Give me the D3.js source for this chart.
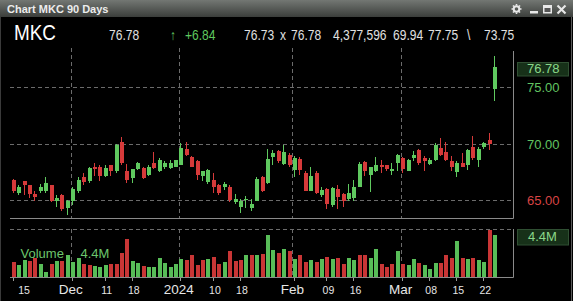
<!DOCTYPE html>
<html>
<head>
<meta charset="utf-8">
<script src="https://cdn.jsdelivr.net/npm/d3@7"></script>
<style>
  body { margin: 0; background: #000; overflow: hidden; }
  svg { display: block; }
  text { font-family: "Liberation Sans", Arial, sans-serif; }
</style>
</head>
<body>
<script>
const ticker = "MKC";
const bid = 76.73;

const dates = [
  "2023-11-15","2023-11-16","2023-11-17","2023-11-20","2023-11-21","2023-11-22","2023-11-24","2023-11-27","2023-11-28","2023-11-29","2023-11-30",
  "2023-12-01","2023-12-04","2023-12-05","2023-12-06","2023-12-07","2023-12-08","2023-12-11","2023-12-12","2023-12-13","2023-12-14",
  "2023-12-15","2023-12-18","2023-12-19","2023-12-20","2023-12-21","2023-12-22","2023-12-26","2023-12-27","2023-12-28","2023-12-29",
  "2024-01-02","2024-01-03","2024-01-04","2024-01-05","2024-01-08","2024-01-09","2024-01-10","2024-01-11","2024-01-12","2024-01-16",
  "2024-01-17","2024-01-18","2024-01-19","2024-01-22","2024-01-23","2024-01-24","2024-01-25","2024-01-26","2024-01-29","2024-01-30","2024-01-31",
  "2024-02-01","2024-02-02","2024-02-05","2024-02-06","2024-02-07","2024-02-08","2024-02-09","2024-02-12","2024-02-13","2024-02-14",
  "2024-02-15","2024-02-16","2024-02-20","2024-02-21","2024-02-22","2024-02-23","2024-02-26","2024-02-27","2024-02-28","2024-02-29",
  "2024-03-01","2024-03-04","2024-03-05","2024-03-06","2024-03-07","2024-03-08","2024-03-11","2024-03-12","2024-03-13","2024-03-14",
  "2024-03-15","2024-03-18","2024-03-19","2024-03-20","2024-03-21","2024-03-22","2024-03-25","2024-03-26"
];

const open = [
  66.76,65.63,66.67,66.31,65.58,65.78,65.78,66.31,64.96,65.43,64.31,
  64.90,65.78,67.02,66.67,67.91,67.99,67.11,68.08,67.55,70.12,67.61,66.96,67.79,67.85,67.26,68.29,67.61,67.91,67.85,67.99,
  68.14,69.56,68.79,68.44,67.11,66.61,66.81,66.31,66.14,66.14,64.84,64.37,65.01,64.31,64.96,67.02,66.52,68.79,69.32,68.20,68.97,
  67.70,68.67,67.40,65.84,67.40,65.49,66.02,64.54,66.02,65.55,65.13,65.19,66.22,68.38,67.20,67.61,68.08,68.08,67.61,68.29,
  68.73,67.61,68.73,69.47,68.73,68.20,68.58,69.62,69.26,68.44,67.49,68.29,68.08,69.68,68.58,69.68,70.35,74.87
];
const high = [
  66.87,66.37,66.70,66.37,65.78,66.43,67.02,66.37,65.49,65.55,65.04,
  66.14,67.02,67.40,67.99,68.29,68.08,68.08,68.08,69.97,70.56,68.20,67.79,68.38,67.99,68.08,69.26,68.73,68.44,68.58,68.58,
  70.06,70.15,68.94,68.58,67.61,67.79,67.40,66.43,66.61,66.37,65.55,65.13,65.34,65.13,67.02,67.11,69.56,69.47,69.47,69.91,69.17,
  68.88,68.79,67.55,67.99,67.55,66.22,66.08,66.14,66.37,65.63,66.43,66.81,68.38,68.44,67.91,68.79,68.58,68.14,68.29,69.09,
  68.79,68.67,69.32,69.56,68.88,68.73,70.03,70.50,70.15,68.88,68.44,69.17,69.56,70.65,69.76,70.15,70.94,77.75
];
const low = [
  65.63,65.49,65.49,65.19,64.96,65.63,65.63,64.84,64.45,64.01,63.66,
  64.54,65.69,66.31,66.52,67.11,66.67,67.05,67.11,67.46,68.14,66.52,66.52,67.70,66.90,67.11,67.79,67.49,67.79,67.79,67.91,
  68.08,68.88,67.91,66.81,66.67,66.43,65.63,65.49,65.93,64.84,64.66,63.86,64.31,64.01,64.90,65.72,66.43,68.08,68.29,68.08,67.91,
  67.02,67.20,65.78,65.78,65.55,65.25,64.25,64.45,64.25,64.45,64.90,64.90,66.14,67.11,65.72,67.49,67.40,67.61,67.26,67.61,
  67.40,67.55,68.44,68.14,67.61,68.08,68.50,68.88,68.50,67.61,67.02,67.91,67.70,68.58,67.91,69.56,69.47,73.75
];
const close = [
  65.78,66.14,66.31,65.58,65.28,66.22,66.52,64.90,65.19,64.25,64.90,
  66.02,66.81,66.61,67.85,67.79,67.11,67.85,67.55,69.91,68.29,66.81,67.79,68.29,66.96,67.99,67.85,68.58,68.29,68.29,68.58,
  69.62,68.97,67.99,67.20,67.55,67.70,66.22,65.63,66.43,65.04,65.13,64.96,65.13,64.66,66.90,65.78,68.67,69.17,68.50,69.26,68.14,
  68.73,67.70,65.84,67.11,65.63,65.93,64.66,66.08,65.25,64.90,65.63,66.22,68.20,67.55,67.91,68.14,67.91,67.79,67.79,69.03,
  67.79,68.58,69.03,68.29,68.44,68.58,69.91,68.97,68.58,67.99,68.29,67.99,69.47,68.73,69.56,70.06,69.94,76.78
];
// volume in millions
const volume = [
  1.55,1.21,1.76,1.62,1.93,1.34,0.52,1.31,1.62,1.62,2.31,
  1.55,2.03,1.31,1.27,1.10,1.00,1.21,1.31,1.35,2.48,3.96,1.62,1.41,1.14,1.03,1.03,2.00,1.48,1.03,1.38,
  1.83,1.79,2.24,1.21,1.79,1.89,2.13,1.31,1.55,2.75,1.62,1.79,2.24,2.31,2.24,2.41,4.41,2.86,2.51,2.93,2.75,
  1.83,2.24,1.55,1.72,1.55,1.89,2.07,1.89,1.96,1.31,2.03,1.72,2.31,2.24,2.00,2.93,1.31,1.03,1.38,2.75,
  1.31,1.21,1.83,1.48,1.21,0.86,1.48,1.45,2.34,1.96,3.79,2.03,1.83,2.03,1.72,1.55,4.92,4.377596
];
// 1 = up day (green volume bar), 0 = down day (red)
const volumeUp = [
  0,1,1,0,0,1,1,0,1,0,1,
  1,1,0,0,1,1,1,0,0,0,0,1,1,0,1,1,1,1,1,1,
  1,0,0,0,0,1,0,0,1,0,0,0,1,0,1,0,1,1,0,1,0,
  1,0,0,1,0,1,0,1,0,0,1,1,0,0,1,1,0,0,0,1,
  0,1,1,0,1,1,1,0,0,0,1,0,1,0,1,1,0,1
];

const priceTicks = [65, 70, 75];
const monthStarts = ["2023-12-01", "2024-01-02", "2024-02-01", "2024-03-01"];
const tickDates = ["2023-11-15","2023-12-01","2023-12-11","2023-12-18","2024-01-02","2024-01-10","2024-01-18",
                   "2024-02-01","2024-02-09","2024-02-16","2024-03-01","2024-03-08","2024-03-15","2024-03-22"];
const tickTexts = ["15","Dec","11","18","2024","10","18","Feb","09","16","Mar","08","15","22"];

const width = 573, height = 301;
const plotLeft = 10, plotRight = 513;
const priceTop = 48, priceBottom = 218;
const volTop = 229, volBottom = 277;

const green = "#5fc95f", red = "#d63a3a";
const volGreen = "#58bd58", volRed = "#c93636";
const gridColor = "#6b6b6b", frameColor = "#8a8a8a";

const n = dates.length;
const last = n - 1;

const svg = d3.select("body").append("svg")
    .attr("width", width)
    .attr("height", height);

const defs = svg.append("defs");
const tg = defs.append("linearGradient").attr("id", "titleGrad")
    .attr("x1", 0).attr("y1", 0).attr("x2", 0).attr("y2", 1);
tg.append("stop").attr("offset", "0%").attr("stop-color", "#737773");
tg.append("stop").attr("offset", "100%").attr("stop-color", "#3b3e3b");

svg.append("rect").attr("width", width).attr("height", height).attr("fill", "#000");

/* ------- TITLE BAR ------- */
svg.append("rect").attr("x", 0).attr("y", 0).attr("width", width).attr("height", 17)
    .attr("fill", "url(#titleGrad)");
svg.append("text")
    .attr("x", 7).attr("y", 13)
    .attr("font-size", 11).attr("font-weight", "bold")
    .attr("fill", "#ececec")
    .text("Chart " + ticker + " " + n + " Days");

// window icons
const icons = svg.append("g").attr("fill", "#e8e8e8").attr("stroke", "#e8e8e8");
icons.append("circle").attr("cx", 516.5).attr("cy", 9).attr("r", 2.8)
    .attr("fill", "none").attr("stroke-width", 2);
d3.range(8).forEach(function(k) {
    const a = k * Math.PI / 4;
    icons.append("line")
        .attr("x1", 516.5 + Math.cos(a) * 3.5).attr("y1", 9 + Math.sin(a) * 3.5)
        .attr("x2", 516.5 + Math.cos(a) * 5).attr("y2", 9 + Math.sin(a) * 5)
        .attr("stroke-width", 1.6);
});
icons.append("rect").attr("x", 530).attr("y", 11).attr("width", 8).attr("height", 2.5).attr("stroke", "none");
icons.append("rect").attr("x", 543).attr("y", 5).attr("width", 9).attr("height", 8.5).attr("stroke", "none");
icons.append("rect").attr("x", 544.5).attr("y", 8).attr("width", 6).attr("height", 4).attr("fill", "#555").attr("stroke", "none");
icons.append("line").attr("x1", 557.5).attr("y1", 5.5).attr("x2", 565.5).attr("y2", 13.5).attr("stroke-width", 2.2);
icons.append("line").attr("x1", 565.5).attr("y1", 5.5).attr("x2", 557.5).attr("y2", 13.5).attr("stroke-width", 2.2);

/* ------- QUOTE LINE (condensed face) ------- */
const fmt2 = d3.format(".2f");
const change = close[last] - close[last - 1];
const quoteItems = [
    { x: 14,  text: ticker, size: 22, fill: "#ffffff" },
    { x: 109, text: fmt2(close[last]) },
    { x: 170, text: "\u2191", fill: green },
    { x: 185, text: "+" + fmt2(change), fill: green },
    { x: 244, text: fmt2(bid) },
    { x: 280, text: "x" },
    { x: 291, text: fmt2(close[last]) },
    { x: 333, text: d3.format(",")(Math.round(volume[last] * 1e6)) },
    { x: 393, text: fmt2(close[last - 1]) },
    { x: 428, text: fmt2(high[last]) },
    { x: 467, text: "\\" },
    { x: 484, text: fmt2(low[last]) }
];
svg.append("g").selectAll("text").data(quoteItems).enter().append("text")
    .attr("transform", function(d) { return "translate(" + d.x + ",39.5) scale(0.86,1)"; })
    .attr("font-size", function(d) { return d.size || 14; })
    .attr("fill", function(d) { return d.fill || "#e2e2e2"; })
    .text(function(d) { return d.text; });

/* ------- SCALES ------- */
const x = d3.scaleBand().domain(dates).range([10.1, 496.8]).padding(0);
const cx = function(d) { return x(d) + x.bandwidth() / 2; };
const y = d3.scaleLinear().domain([65, 75]).range([200.3, 87.3]);
const yv = d3.scaleLinear().domain([0, 5.0]).range([volBottom, volTop]);

const data = dates.map(function(d, i) {
    return { date: d, o: open[i], h: high[i], l: low[i], c: close[i], v: volume[i], up: volumeUp[i] };
});

/* ------- GRID ------- */
const grid = svg.append("g").attr("stroke", gridColor).attr("stroke-dasharray", "4,3").attr("stroke-width", 1);
grid.selectAll(".hgrid").data(priceTicks).enter().append("line")
    .attr("x1", plotLeft).attr("x2", plotRight)
    .attr("y1", function(d) { return Math.round(y(d)) + 0.5; })
    .attr("y2", function(d) { return Math.round(y(d)) + 0.5; });
grid.append("line")
    .attr("x1", plotLeft).attr("x2", plotRight)
    .attr("y1", Math.round(yv(5.0)) + 0.5).attr("y2", Math.round(yv(5.0)) + 0.5);
grid.selectAll(".vgrid").data(monthStarts).enter().append("line")
    .attr("x1", function(d) { return Math.round(cx(d) - 1.6) + 0.5; })
    .attr("x2", function(d) { return Math.round(cx(d) - 1.6) + 0.5; })
    .attr("y1", priceTop).attr("y2", priceBottom);
grid.selectAll(".vgrid2").data(monthStarts).enter().append("line")
    .attr("x1", function(d) { return Math.round(cx(d) - 1.6) + 0.5; })
    .attr("x2", function(d) { return Math.round(cx(d) - 1.6) + 0.5; })
    .attr("y1", volTop).attr("y2", volBottom);

/* ------- FRAMES ------- */
const frame = svg.append("g").attr("stroke", frameColor).attr("stroke-width", 1).attr("fill", "none");
frame.append("polyline").attr("points", [[plotLeft, priceBottom + 0.5], [plotRight + 0.5, priceBottom + 0.5], [plotRight + 0.5, priceTop + 3]]);
frame.append("polyline").attr("points", [[plotLeft, volBottom + 0.5], [plotRight + 0.5, volBottom + 0.5], [plotRight + 0.5, volTop]]);
svg.append("line").attr("x1", 571.5).attr("x2", 571.5).attr("y1", 17).attr("y2", height)
    .attr("stroke", "#5a5a5a");
svg.append("line").attr("x1", 0.5).attr("x2", 0.5).attr("y1", 17).attr("y2", height)
    .attr("stroke", "#3a3a3a");

/* ------- CANDLES ------- */
const candles = svg.append("g").attr("shape-rendering", "crispEdges");
const cg = candles.selectAll(".candle").data(data).enter().append("g")
    .attr("fill", function(d) { return d.c >= d.o ? green : red; })
    .attr("stroke", function(d) { return d.c >= d.o ? green : red; });
cg.append("line")
    .attr("x1", function(d) { return Math.round(cx(d.date)) + 0.5; })
    .attr("x2", function(d) { return Math.round(cx(d.date)) + 0.5; })
    .attr("y1", function(d) { return y(d.h); })
    .attr("y2", function(d) { return y(d.l); });
cg.append("rect")
    .attr("stroke", "none")
    .attr("x", function(d) { return Math.round(cx(d.date)) - 1.5; })
    .attr("width", 4)
    .attr("y", function(d) { return y(Math.max(d.o, d.c)); })
    .attr("height", function(d) { return Math.max(1, Math.abs(y(d.o) - y(d.c))); });

/* ------- VOLUME ------- */
svg.append("g").attr("shape-rendering", "crispEdges")
    .selectAll("rect").data(data).enter().append("rect")
    .attr("x", function(d) { return Math.round(cx(d.date)) - 1.5; })
    .attr("width", 4)
    .attr("y", function(d) { return yv(d.v); })
    .attr("height", function(d) { return volBottom - yv(d.v); })
    .attr("fill", function(d) { return d.up ? volGreen : volRed; });

svg.append("text").attr("x", 20.5).attr("y", 257.5).attr("font-size", 13).attr("fill", "#6cc66c")
    .text("Volume");
svg.append("text").attr("x", 80.5).attr("y", 257.5).attr("font-size", 13).attr("fill", "#6cc66c")
    .text(d3.format(".1f")(volume[last]) + "M");

/* ------- RIGHT AXIS ------- */
const prevClose = close[last - 1];
svg.append("g").selectAll("text").data(priceTicks).enter().append("text")
    .attr("x", 527).attr("y", function(d) { return y(d) + 4.8; })
    .attr("font-size", 13)
    .attr("fill", function(d) { return d >= prevClose ? "#62c462" : "#d84444"; })
    .text(function(d) { return fmt2(d); });

const lastY = y(close[last]);
svg.append("rect").attr("x", 517.5).attr("y", Math.round(lastY - 5.5) + 0.5).attr("width", 51).attr("height", 13.5)
    .attr("fill", "#173119").attr("stroke", "#2f4f32");
svg.append("text").attr("x", 527).attr("y", lastY + 5.8).attr("font-size", 13).attr("fill", "#8ad88a")
    .text(fmt2(close[last]));

const lastVY = yv(volume[last]);
svg.append("rect").attr("x", 517.5).attr("y", Math.round(lastVY - 6) + 0.5).attr("width", 51).attr("height", 15.5)
    .attr("fill", "#173119").attr("stroke", "#2f4f32");
svg.append("text").attr("x", 528).attr("y", lastVY + 6.5).attr("font-size", 13).attr("fill", "#8ad88a")
    .text(d3.format(".1f")(volume[last]) + "M");

/* ------- BOTTOM AXIS ------- */
const ticks = tickDates.map(function(d, i) {
    return { date: d, text: tickTexts[i], month: monthStarts.indexOf(d) >= 0 };
});
svg.append("g").selectAll("line").data(ticks).enter().append("line")
    .attr("x1", function(d) { return Math.round(cx(d.date)) + 0.5; })
    .attr("x2", function(d) { return Math.round(cx(d.date)) + 0.5; })
    .attr("y1", volBottom + 1).attr("y2", volBottom + 4)
    .attr("stroke", "#9a9a9a");
svg.append("g").selectAll("text").data(ticks).enter().append("text")
    .attr("x", function(d) {
        if (d.month) return cx(d.date) - 1.6;
        return Math.max(cx(d.date) + 2, plotLeft + 14);
    })
    .attr("y", 294)
    .attr("text-anchor", "middle")
    .attr("font-size", function(d) { return d.month ? 13.5 : 10.5; })
    .attr("fill", "#e6e6e6")
    .text(function(d) { return d.text; });
</script>
</body>
</html>
